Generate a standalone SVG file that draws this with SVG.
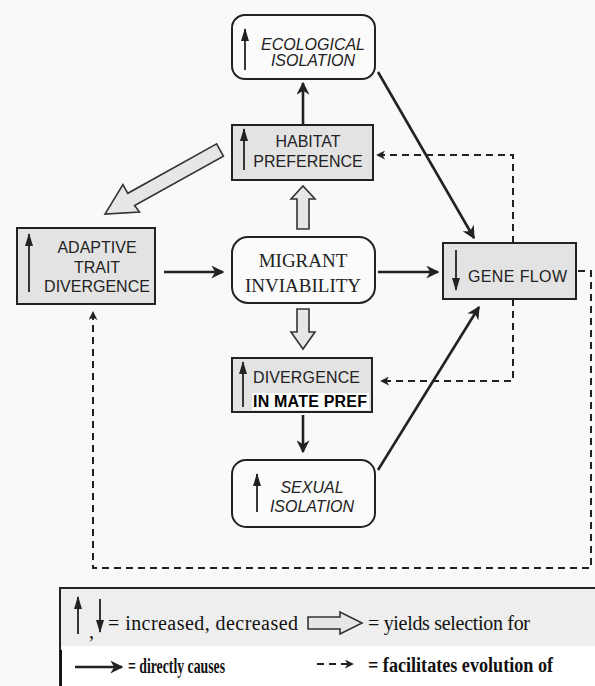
<svg xmlns="http://www.w3.org/2000/svg" width="595" height="686" viewBox="0 0 595 686">
  <style>
    .box { fill: #e3e3e3; stroke: #222; stroke-width: 2; }
    .rbox { fill: #fbfbfb; stroke: #222; stroke-width: 2; }
    .lbl { font-family: "Liberation Sans", Arial, sans-serif; font-size: 16px; fill: #222; text-anchor: middle; }
    .ital { font-style: italic; }
    .serif { font-family: "Liberation Serif", "Times New Roman", serif; font-size: 19px; fill: #222; text-anchor: middle; }
    .ind { stroke: #222; stroke-width: 1.8; fill: none; }
    .cause { stroke: #222; stroke-width: 2.6; fill: none; }
    .fac { stroke: #222; stroke-width: 2; fill: none; stroke-dasharray: 7 5; }
    .sel { fill: #e6e6e6; stroke: #333; stroke-width: 1.6; stroke-linejoin: miter; }
    .leg { font-family: "Liberation Serif", "Times New Roman", serif; font-size: 20px; fill: #111; }
    .legb { font-family: "Liberation Serif", "Times New Roman", serif; font-size: 20px; font-weight: bold; fill: #111; }
  </style>
  <defs>
    <marker id="ah" viewBox="0 0 10 10" refX="9" refY="5" markerWidth="13" markerHeight="13" markerUnits="userSpaceOnUse" orient="auto">
      <path d="M0,0 L10,5 L0,10 L3,5 z" fill="#222"/>
    </marker>
    <marker id="dh" viewBox="0 0 10 10" refX="9" refY="5" markerWidth="9" markerHeight="9" markerUnits="userSpaceOnUse" orient="auto">
      <path d="M0,0 L10,5 L0,10 L3,5 z" fill="#222"/>
    </marker>
    <marker id="ih" viewBox="0 0 13 8" refX="12" refY="4" markerWidth="13" markerHeight="8" markerUnits="userSpaceOnUse" orient="auto">
      <path d="M0,0 L13,4 L0,8 z" fill="#222"/>
    </marker>
  </defs>

  <rect x="0" y="0" width="595" height="686" fill="#f9f9f9"/>

  <!-- connectors -->
  <g id="connectors">
    <!-- directly causes -->
    <line class="cause" x1="303" y1="124" x2="303" y2="83" marker-end="url(#ah)"/>
    <line class="cause" x1="378" y1="72" x2="474" y2="238" marker-end="url(#ah)"/>
    <line class="cause" x1="164" y1="272" x2="223" y2="272" marker-end="url(#ah)"/>
    <line class="cause" x1="378" y1="272" x2="438" y2="272" marker-end="url(#ah)"/>
    <line class="cause" x1="303" y1="415" x2="303" y2="452" marker-end="url(#ah)"/>
    <line class="cause" x1="378" y1="470" x2="479" y2="307" marker-end="url(#ah)"/>
    <!-- facilitates evolution of -->
    <polyline class="fac" points="513,243 513,155 377,155" marker-end="url(#dh)"/>
    <polyline class="fac" points="513,299 513,381 381,381" marker-end="url(#dh)"/>
    <polyline class="fac" points="578,271 591,271 591,568 93,568 93,312" marker-end="url(#dh)"/>
    <!-- yields selection for -->
    <polygon class="sel" points="297,229 297,199 291,199 303,186 315,199 309,199 309,229"/>
    <polygon class="sel" points="297,309 297,332 291,332 303,349 315,332 309,332 309,309"/>
    <polygon class="sel" points="216.6,143.9 127.8,193.3 122.9,184.5 105,214 139.5,212 134.6,205.5 223.4,156.1"/>
  </g>

  <g id="ecological-isolation">
    <rect class="rbox" x="232" y="15" width="143" height="64" rx="13"/>
    <line class="ind" x1="245" y1="70" x2="245" y2="29" marker-end="url(#ih)"/>
    <text class="lbl ital" x="313" y="50">ECOLOGICAL</text>
    <text class="lbl ital" x="313" y="66">ISOLATION</text>
  </g>

  <g id="habitat-preference">
    <rect class="box" x="232" y="125" width="141" height="55"/>
    <line class="ind" x1="244" y1="170" x2="244" y2="129" marker-end="url(#ih)"/>
    <text class="lbl" x="308" y="147">HABITAT</text>
    <text class="lbl" x="308" y="167">PREFERENCE</text>
  </g>

  <g id="adaptive-trait-divergence">
    <rect class="box" x="17" y="228" width="138" height="76"/>
    <line class="ind" x1="29" y1="292" x2="29" y2="234" marker-end="url(#ih)"/>
    <text class="lbl" x="97" y="253">ADAPTIVE</text>
    <text class="lbl" x="97" y="273">TRAIT</text>
    <text class="lbl" x="97" y="292">DIVERGENCE</text>
  </g>

  <g id="migrant-inviability">
    <rect class="rbox" x="232" y="237" width="143" height="66" rx="16"/>
    <text class="serif" x="303" y="267">MIGRANT</text>
    <text class="serif" x="303" y="292">INVIABILITY</text>
  </g>

  <g id="gene-flow">
    <rect class="box" x="443" y="243" width="133" height="56"/>
    <line class="ind" x1="456" y1="250" x2="456" y2="290" marker-end="url(#ih)"/>
    <text class="lbl" x="468" y="282" style="text-anchor:start" textLength="99">GENE FLOW</text>
  </g>

  <g id="divergence-in-mate-pref">
    <rect class="box" x="232" y="358" width="140" height="54"/>
    <rect x="252" y="393" width="117" height="17" fill="#ffffff"/>
    <line class="ind" x1="243" y1="407" x2="243" y2="362" marker-end="url(#ih)"/>
    <text class="lbl" x="253" y="383" style="text-anchor:start" textLength="107">DIVERGENCE</text>
    <text class="lbl" x="253" y="407" style="text-anchor:start;font-weight:bold;fill:#000" textLength="114">IN MATE PREF</text>
  </g>

  <g id="sexual-isolation">
    <rect class="rbox" x="232" y="460" width="143" height="67" rx="14"/>
    <line class="ind" x1="257" y1="512" x2="257" y2="474" marker-end="url(#ih)"/>
    <text class="lbl ital" x="312" y="493">SEXUAL</text>
    <text class="lbl ital" x="312" y="512">ISOLATION</text>
  </g>

  <!-- key -->
  <g id="legend">
    <rect x="60" y="588" width="545" height="110" fill="#eeeeee" stroke="#222" stroke-width="2"/>
    <rect x="62" y="646" width="540" height="45" fill="#ffffff"/>
    <line x1="61" y1="650" x2="61" y2="686" stroke="#111" stroke-width="2"/>
    <line class="ind" x1="78" y1="634" x2="78" y2="597" marker-end="url(#ih)"/>
    <text class="leg" x="89" y="638">,</text>
    <line class="ind" x1="100" y1="599" x2="100" y2="632" marker-end="url(#ih)"/>
    <text class="leg" x="108" y="630" textLength="190">= increased, decreased</text>
    <polygon class="sel" points="308,617 340,617 340,612 362,623 340,634 340,629 308,629"/>
    <text class="leg" x="368" y="630" textLength="162">= yields selection for</text>
    <line class="cause" x1="75" y1="667" x2="122" y2="667" marker-end="url(#ah)"/>
    <text class="legb" x="128" y="673" textLength="97" lengthAdjust="spacingAndGlyphs">= directly causes</text>
    <line class="fac" x1="317" y1="664" x2="353" y2="664" stroke-dasharray="5 4" marker-end="url(#dh)"/>
    <text class="legb" x="368" y="672" textLength="185" lengthAdjust="spacingAndGlyphs">= facilitates evolution of</text>
  </g>
</svg>
